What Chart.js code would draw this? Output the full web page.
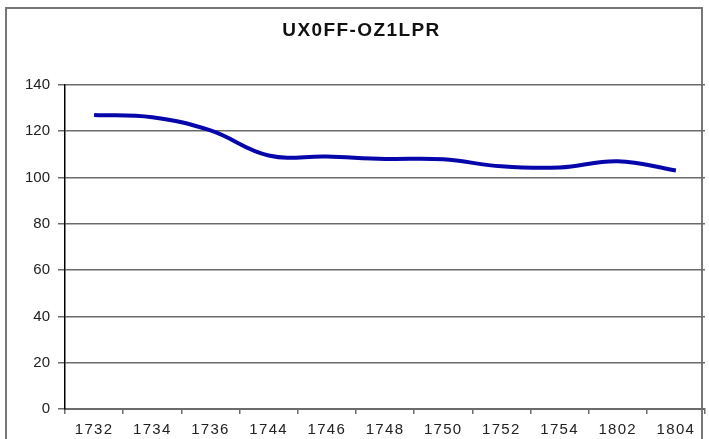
<!DOCTYPE html>
<html>
<head>
<meta charset="UTF-8" />
<title>UX0FF-OZ1LPR</title>
<script src="https://cdn.jsdelivr.net/npm/chart.js"></script>
<style>
  html,body{margin:0;padding:0;background:#fff;overflow:hidden}
  #marco{position:absolute;left:5px;top:7px;width:698px;height:520px;border:2px solid #777;box-sizing:border-box}
  #caja{position:absolute;left:0;top:0;width:709px;height:439px}
</style>
</head>
<body>
<div id="marco"></div>
<div id="caja"><canvas id="grafico"></canvas></div>
<script>
// datos
const categorias = ["1732","1734","1736","1744","1746","1748","1750","1752","1754","1802","1804"];
const valores    = [127, 126, 120.3, 109.5, 109, 108, 107.8, 104.8, 104.3, 107, 103];
const ticksY     = [0, 20, 40, 60, 80, 100, 120, 140];

const gris = "#6b6b6b";
const fuente = "Liberation Sans, Arial, sans-serif";

// envuelve un dibujo para que el texto salga algo espaciado (solo titulo y eje x)
function conEspacio(obj, metodo, ctx, esp, dx){
  if(!obj || obj["_esp_" + metodo]) return;
  const orig = obj[metodo].bind(obj);
  obj[metodo] = function(...a){
    ctx.save();
    ctx.letterSpacing = esp;
    if(dx) ctx.translate(dx, 0);
    orig(...a);
    ctx.restore();
  };
  obj["_esp_" + metodo] = true;
}

const espaciado = {
  id: "espaciado",
  beforeDraw: c => {
    conEspacio(c.scales.x, "drawLabels", c.ctx, "1.3px", 0);
    conEspacio(c.titleBlock, "draw", c.ctx, "1.4px", 9);
  }
};

new Chart(document.getElementById("grafico"), {
  type: "line",
  data: {
    labels: categorias,
    datasets: [{
      data: valores,
      borderColor: "#0606aa",
      borderWidth: 4,
      pointRadius: 0,
      tension: 0.4,
      fill: false
    }]
  },
  options: {
    responsive: true,
    maintainAspectRatio: false,
    animation: false,
    layout: { padding: { left: 0, right: 4, top: 0, bottom: 0 } },
    plugins: {
      legend: { display: false },
      tooltip: { enabled: false },
      title: {
        display: true,
        text: "UX0FF-OZ1LPR",
        color: "#111",
        font: { family: fuente, size: 19, weight: "bold" },
        padding: { top: 19, bottom: 43 }
      }
    },
    scales: {
      x: {
        offset: true,
        grid: { offset: true, drawOnChartArea: false, drawTicks: true, tickLength: 5, color: gris, lineWidth: 1.5 },
        border: { color: gris, width: 2 },
        ticks: {
          color: "#222",
          padding: 7,
          maxRotation: 0,
          autoSkip: false,
          font: { family: fuente, size: 15 }
        },
        afterFit: s => { s.height = 30; }
      },
      y: {
        min: ticksY[0],
        max: ticksY[ticksY.length - 1],
        afterBuildTicks: s => { s.ticks = ticksY.map(v => ({ value: v })); },
        grid: { color: gris, lineWidth: 1.5, tickLength: 7 },
        border: { color: "#000", width: 1.5 },
        ticks: {
          color: "#222",
          padding: 8,
          font: { family: fuente, size: 15 }
        },
        afterFit: s => { s.width = 65; }
      }
    }
  },
  plugins: [espaciado]
});
</script>
</body>
</html>
